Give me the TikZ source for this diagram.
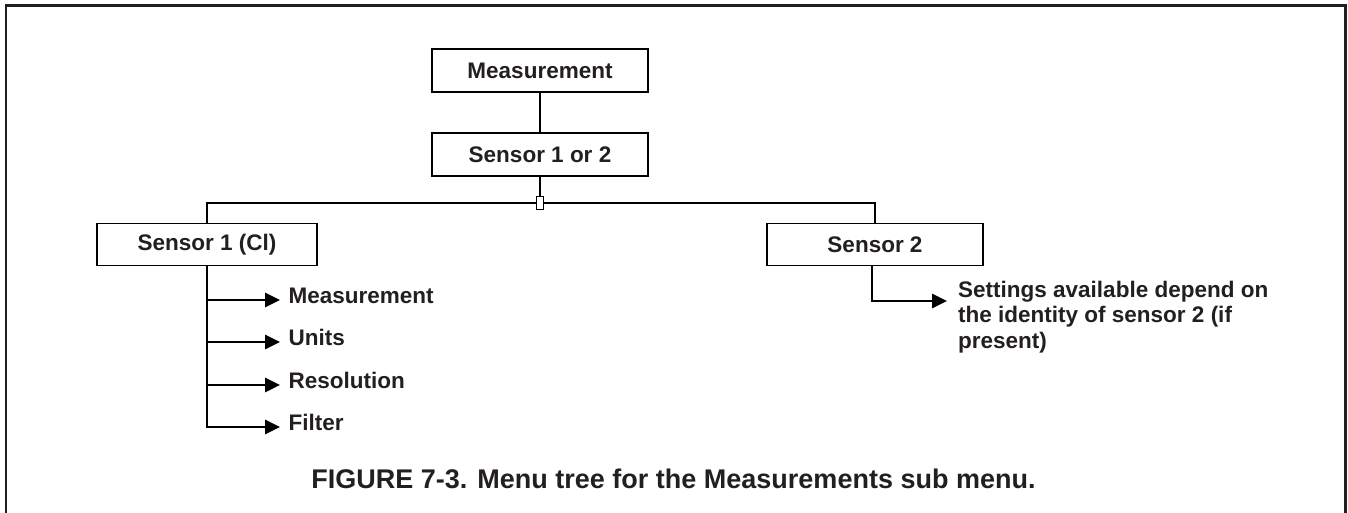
\documentclass[tikz,border=0pt]{standalone}
\usepackage{fontspec}
\setmainfont{Liberation Sans}
\usetikzlibrary{arrows.meta}
\definecolor{ink}{HTML}{231F20}
\begin{document}
\begin{tikzpicture}[x=1pt,y=-1pt,
  box/.style={draw=black,line width=1.7pt,fill=white,inner sep=0pt,
    font=\fontsize{22.5}{25.5}\selectfont\bfseries,text=ink},
  item/.style={anchor=west,inner xsep=8.5pt,inner ysep=0pt,text height=0.72em,text depth=0pt,
    font=\fontsize{22.5}{25.5}\selectfont\bfseries,text=ink},
  link/.style={draw=black,line width=1.7pt},
  arr/.style={link,-{Triangle[length=15pt,width=14.5pt]}}]
\useasboundingbox (0,0) rectangle (1348,512);
% frame
\draw[ink,line width=2.5pt] (6,515) -- (6,5.5) -- (1345.5,5.5) -- (1345.5,515);
% boxes
\node[box,minimum width=216pt,minimum height=43pt] (meas) at (540,70.5) {Measurement};
\node[box,minimum width=216pt,minimum height=43pt] (s12) at (540,154.5) {Sensor 1 or 2};
\node[box,minimum width=220pt,minimum height=42pt] (s1) at (207,244.5) {Sensor 1 (Cl)};
\node[box,minimum width=216pt,minimum height=42pt] (s2) at (875,244.5) {Sensor 2};
\node[draw=black,line width=1.4pt,fill=white,inner sep=0pt,minimum width=7pt,minimum height=13pt] (junc) at (540,203) {};
% top connectors
\draw[link] (meas) -- (s12);
\draw[link] (s12) -- (junc);
\draw[link] (s1.north) |- (junc.west);
\draw[link] (s2.north) |- (junc.east);
% sensor 1 items
\node[item] (i1) at (280,300) {Measurement};
\node[item] (i2) at (280,342) {Units};
\node[item] (i3) at (280,385) {Resolution};
\node[item] (i4) at (280,427) {Filter};
\draw[link] (s1.south) -- (s1.south |- i4.west);
\draw[arr] (s1.south |- i1.west) -- (i1.west);
\draw[arr] (s1.south |- i2.west) -- (i2.west);
\draw[arr] (s1.south |- i3.west) -- (i3.west);
\draw[arr] ([xshift=-0.85pt]s1.south |- i4.west) -- (i4.west);
% sensor 2 item
\coordinate (s2end) at (947,301);
\node[anchor=north west,inner sep=0pt,align=left,text=ink,
  font=\fontsize{22.5}{25.5}\selectfont\bfseries] (s2txt) at (958,280.5)
  {Settings available depend on\\the identity of sensor 2 (if\\present)};
\draw[arr] ([xshift=-3pt]s2.south) |- (s2end);
% caption
\node[anchor=base,inner sep=0pt,text=ink,font=\fontsize{27}{30}\selectfont\bfseries] (cap) at (673.5,488)
  {FIGURE 7-3. Menu tree for the Measurements sub menu.};
\end{tikzpicture}
\end{document}
